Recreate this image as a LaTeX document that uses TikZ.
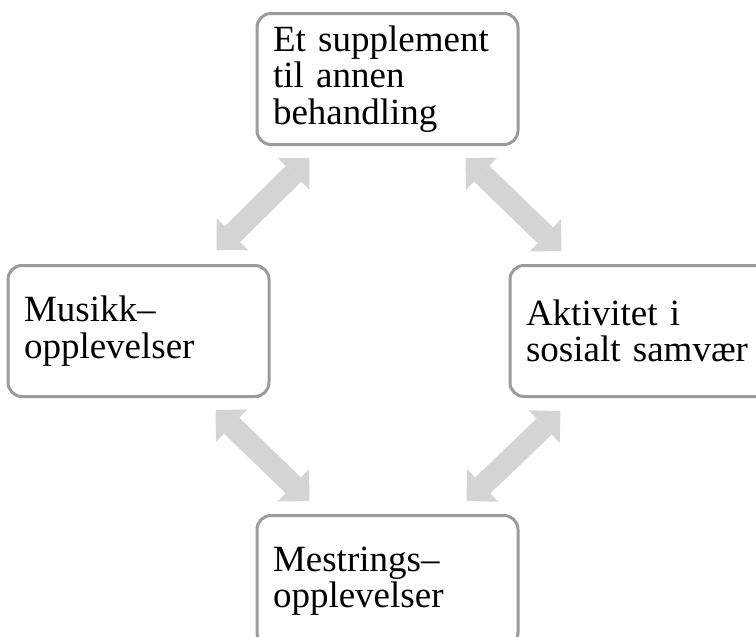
\documentclass[tikz,border=0pt]{standalone}
\usepackage{fontspec}
\setmainfont{Liberation Serif}
\usetikzlibrary{arrows.meta, positioning, calc}

\definecolor{boxgray}{RGB}{155,155,155}
\definecolor{arrowgray}{RGB}{212,212,212}

\begin{document}
\begin{tikzpicture}[x=1pt, y=-1pt,
  box/.style={draw=boxgray, line width=3pt, rounded corners=14pt, fill=white,
    text width=229pt, inner xsep=16pt, inner ysep=0pt, minimum height=131pt,
    align=left, font=\fontsize{37pt}{36.5pt}\selectfont},
  link/.style={draw=arrowgray, line width=22pt,
    {Triangle[length=22.5pt, width=45pt, line width=0pt]}-{Triangle[length=22.5pt, width=45pt, line width=0pt]}}]

\path[use as bounding box] (0,0) rectangle (756,637);

% -----------------------------------------------------
%  Boxes
% -----------------------------------------------------
\node[box] (supp) at (387.5,79) {Et supplement\\til annen\\behandling};

\node[box, below=118pt of supp.south west, anchor=north east,
      xshift=15pt] (musikk) {Musikk–\\opplevelser};

\node[box, below=118pt of supp.south east, anchor=north west,
      xshift=-11pt] (aktiv) {Aktivitet i\\sosialt samvær};

\node[box, below=368pt of supp] (mestr) {Mestrings–\\opplevelser};

% -----------------------------------------------------
%  Double arrows between the boxes
% -----------------------------------------------------
\coordinate (a1) at ($(musikk.north east)+(-54,-14)$);
\coordinate (b1) at ($(supp.south west)+(54,12)$);
\coordinate (a2) at ($(supp.south east)+(-54,12)$);
\coordinate (b2) at ($(aktiv.north west)+(53,-13)$);
\coordinate (a3) at ($(musikk.south east)+(-55,12)$);
\coordinate (b3) at ($(mestr.north west)+(54,-13)$);
\coordinate (a4) at ($(aktiv.south west)+(52,13)$);
\coordinate (b4) at ($(mestr.north east)+(-53,-13)$);

\foreach \i in {1,...,4}{
  \draw[link] (a\i) -- (b\i);
}

\end{tikzpicture}
\end{document}
